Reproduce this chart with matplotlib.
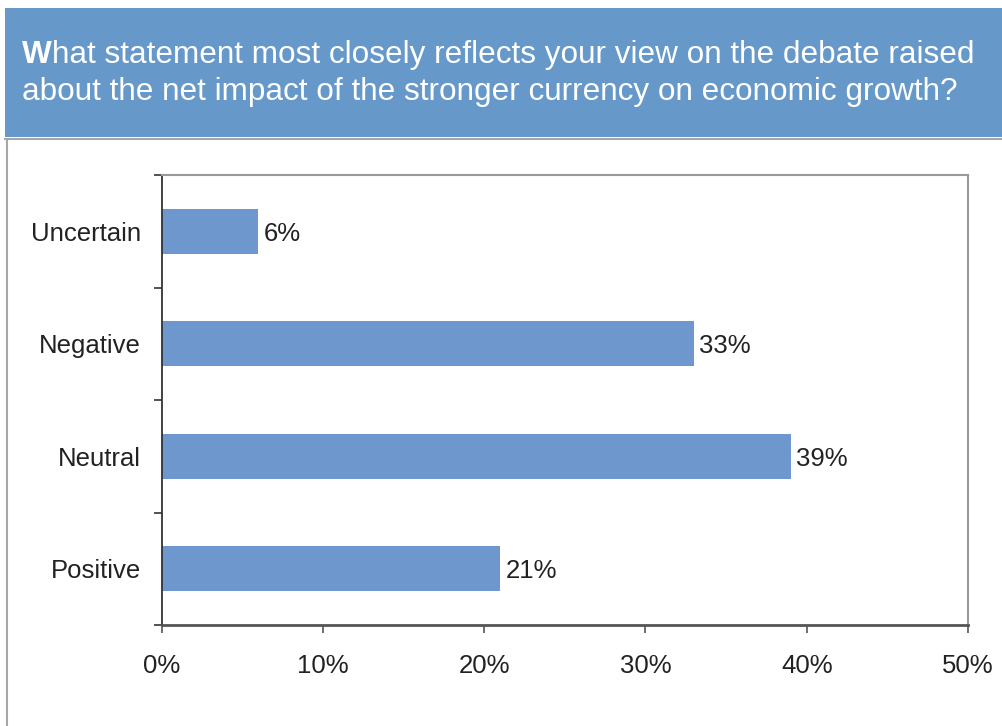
import matplotlib
matplotlib.use("Agg")
import matplotlib.pyplot as plt
from matplotlib.patches import Rectangle
from matplotlib.lines import Line2D

# survey answers, bottom to top
categories = ["Positive", "Neutral", "Negative", "Uncertain"]
shares = [21, 39, 33, 6]
x_ticks = [0, 10, 20, 30, 40, 50]
x_tick_labels = ["0%", "10%", "20%", "30%", "40%", "50%"]

W, H = 1002, 726
plt.rcParams['font.family'] = ['Liberation Sans', 'DejaVu Sans']

fig = plt.figure(figsize=(W / 100, H / 100), dpi=100)

# px -> figure fraction helpers (y measured from top)
def fx(px):
    return px / W

def fy(py):
    return 1 - py / H

# blue header band with the question
fig.patches.append(Rectangle((fx(5), fy(137)), fx(W - 5), (137 - 8) / H,
                             transform=fig.transFigure, facecolor="#6699C9",
                             edgecolor="none", zorder=0))
fig.lines.append(Line2D([fx(5), 1], [fy(138.5), fy(138.5)], transform=fig.transFigure,
                        color="#A6A6A6", lw=1.5))
fig.lines.append(Line2D([fx(6.5), fx(6.5)], [fy(139), 0], transform=fig.transFigure,
                        color="#A6A6A6", lw=1.5))

title_size = 22.7
w_txt = fig.text(fx(22), fy(63), "W", color="white", fontsize=title_size,
                 fontweight="bold", va="baseline", ha="left")
fig.canvas.draw()
w_box = w_txt.get_window_extent()
fig.text(fx(22) + w_box.width / W, fy(63),
         "hat statement most closely reflects your view on the debate raised",
         color="white", fontsize=title_size, va="baseline", ha="left")
fig.text(fx(22), fy(100), "about the net impact of the stronger currency on economic growth?",
         color="white", fontsize=title_size, va="baseline", ha="left")

# plot area
left, right, top, bottom = 161.5, 968, 175, 625
ax = fig.add_axes([fx(left), fy(bottom), fx(right - left), (bottom - top) / H])

ypos = list(range(len(categories)))
ax.barh(ypos, shares, height=0.4, color="#6E97CE", edgecolor="none")
for y, v in zip(ypos, shares):
    ax.annotate(f"{v}%", xy=(v, y), xytext=(4, -7), textcoords="offset points",
                ha="left", va="baseline", fontsize=18.5, color="#222222")

ax.set_xlim(0, 50)
ax.set_ylim(-0.5, len(categories) - 0.5)

ax.set_xticks(x_ticks)
ax.set_xticklabels(x_tick_labels)
ax.set_yticks([i - 0.5 for i in range(len(categories) + 1)])
ax.set_yticklabels([])
ax.set_yticks(ypos, minor=True)
ax.set_yticklabels(categories, minor=True)

ax.tick_params(axis="x", direction="out", length=6, width=1.2, color="#555555",
               labelsize=18.5, labelcolor="#222222", pad=15)
ax.tick_params(axis="y", which="major", direction="out", length=6, width=1.2,
               color="#333333")
ax.tick_params(axis="y", which="minor", length=0, labelsize=18.5, labelcolor="#222222",
               pad=15)
for lab in ax.get_yticklabels(minor=True):
    lab.set_va("center_baseline")

ax.spines["left"].set_color("#333333")
ax.spines["bottom"].set_color("#555555")
ax.spines["left"].set_linewidth(1.3)
ax.spines["bottom"].set_linewidth(2)
for s in ("top", "right"):
    ax.spines[s].set_color("#999999")
    ax.spines[s].set_linewidth(1.5)

fig.savefig("out.png", dpi=100)
